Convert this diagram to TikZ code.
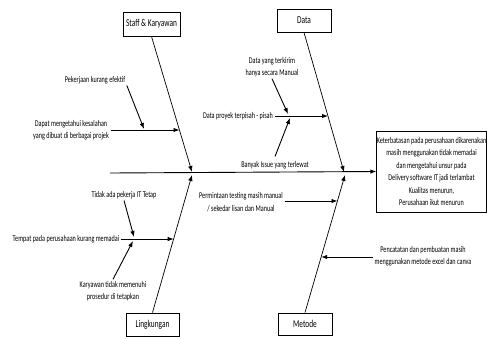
\documentclass[tikz,border=0pt]{standalone}
\usepackage{fontspec}
\setmainfont{Carlito}[FakeStretch=0.7]
\usetikzlibrary{arrows,arrows.meta,positioning,calc}
\tikzset{
  bonebox/.style={
    % The shape:
    rectangle,
    % The border:
    draw, line width=1pt,
    % Font
    font=\fontsize{10.5}{12}\selectfont,
    inner sep=0pt
  },
  cause/.style={
    align=center, inner sep=1.5pt,
    font=\fontsize{8.8}{12.5}\selectfont
  },
  effectbox/.style={
    rectangle, draw, line width=0.9pt,
    minimum width=109pt, minimum height=81pt,
    align=center, inner sep=0pt,
    font=\fontsize{8.8}{12.5}\selectfont
  }
}
\tikzstyle{line} = [draw, line width=0.9pt, -{Latex[length=6pt,width=4.5pt]}]
\tikzstyle{bone} = [draw, line width=0.7pt, -{Latex[length=6pt,width=4.5pt]}]

\begin{document}
\begin{tikzpicture}[x=1pt,y=-1pt]
\useasboundingbox (0,0) rectangle (487,338);
% Category boxes
\node [bonebox, minimum width=57pt, minimum height=24pt] (staff) at (151.5,24) {Staff \& Karyawan};
\node [bonebox, minimum width=54pt, minimum height=23pt] (data) at (304,20.5) {Data};
\node [bonebox, minimum width=53pt, minimum height=23pt] (ling) at (152.5,324.5) {Lingkungan};
\node [bonebox, minimum width=54pt, minimum height=22pt] (metode) at (305,324) {Metode};
% Effect
\node [effectbox] (effect) at (431.5,171.5) {Keterbatasan pada perusahaan dikarenakan\\masih menggunakan tidak memadai\\dan mengetahui unsur pada\\Delivery software IT jadi terlambat\\Kualitas menurun,\\Perusahaan ikut menurun};
% Spine and bone ends
\coordinate (tail) at (110,173);
\coordinate (sj) at (192,172);
\coordinate (dj) at (344,172);
\coordinate (lj) at (192,175);
\coordinate (mj) at (345,175);
% Causes
\node [cause] (s1) at (71,130) {Dapat mengetahui kesalahan\\yang dibuat di berbagai projek};
\node [cause] (s2) at (95,80) {Pekerjaan kurang efektif};
\node [cause] (d1) at (238,116) {Data proyek terpisah - pisah};
\node [cause] (d2) at (272,67) {Data yang terkirim\\hanya secara Manual};
\node [cause] (d3) at (275,165) {Banyak Issue yang terlewat};
\node [cause] (l1) at (66,239) {Tempat pada perusahaan kurang memadai};
\node [cause] (l2) at (124,195) {Tidak ada pekerja IT Tetap};
\node [cause] (l3) at (113,291) {Karyawan tidak memenuhi\\prosedur di tetapkan};
\node [cause] (m1) at (241,202) {Permintaan testing masih manual\\/ sekedar lisan dan Manual};
\node [cause] (m2) at (423,256) {Pencatatan dan pembuatan masih\\menggunakan metode excel dan canva};
% Arrow tips on the bones
\coordinate (sa) at (179.5,130);
\coordinate (sb) at (144,129);
\coordinate (da) at (328,116);
\coordinate (db) at (288,114);
\coordinate (dc) at (290,118);
\coordinate (la) at (173.7,239);
\coordinate (lb) at (134,237);
\coordinate (lc) at (133,241);
\coordinate (ma) at (337.5,201);
\coordinate (mb) at (321.2,257);
% Draw edges
\path [line] (tail) -- (effect.west);
\path [bone] (staff.south) -- (sj);
\path [bone] (data.south) -- (dj);
\path [bone] (ling.north) -- (lj);
\path [bone] (metode.north) -- (mj);
\path [line] (s1.east) -- (sa);
\path [line] (s2.south east) -- (sb);
\path [line] (d1.east) -- (da);
\path [line] (d2.south) -- (db);
\path [line] ([yshift=3pt]d3.north) -- (dc);
\path [line] (l1.east) -- (la);
\path [line] (l2.south) -- (lb);
\path [line] (l3.north) -- (lc);
\path [line] (m1.east |- ma) -- (ma);
\path [line] (m2.west |- mb) -- (mb);
\end{tikzpicture}
\end{document}
